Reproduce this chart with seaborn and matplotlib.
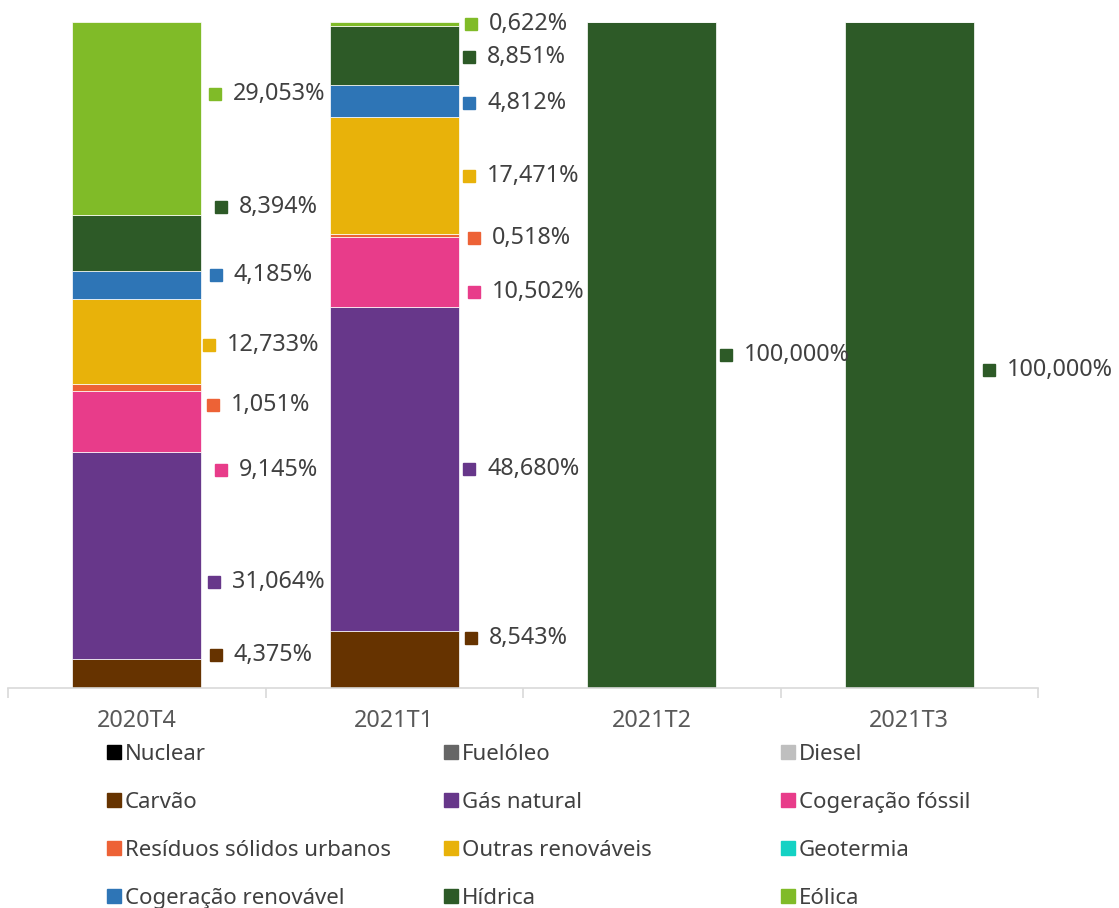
import numpy as np
import pandas as pd
import matplotlib
matplotlib.use("Agg")
import matplotlib.pyplot as plt
from matplotlib.lines import Line2D
import seaborn as sns

# ---------------- data ----------------
categories = ["2020T4", "2021T1", "2021T2", "2021T3"]
series = ["Nuclear", "Fuelóleo", "Diesel", "Carvão", "Gás natural", "Cogeração fóssil",
          "Resíduos sólidos urbanos", "Outras renováveis", "Geotermia",
          "Cogeração renovável", "Hídrica", "Eólica"]
nuclear = [0, 0, 0, 0]
fueloleo = [0, 0, 0, 0]
diesel = [0, 0, 0, 0]
carvao = [4.375, 8.543, 0, 0]
gas_natural = [31.064, 48.680, 0, 0]
cogeracao_fossil = [9.145, 10.502, 0, 0]
residuos = [1.051, 0.518, 0, 0]
outras_renov = [12.733, 17.471, 0, 0]
geotermia = [0, 0, 0, 0]
cogeracao_renov = [4.185, 4.812, 0, 0]
hidrica = [8.394, 8.851, 100.0, 100.0]
eolica = [29.053, 0.622, 0, 0]

values = [nuclear, fueloleo, diesel, carvao, gas_natural, cogeracao_fossil, residuos,
          outras_renov, geotermia, cogeracao_renov, hidrica, eolica]

colors = ["#000000", "#666666", "#bfbfbf", "#663300", "#67378a", "#e83c8a",
          "#ed6236", "#e8b20a", "#14d2c4", "#2e75b6", "#2d5a27", "#80bb28"]

# ---------------- label layout (manual callout placement, % and px offsets) ----------------
# (series index, category index, label y in %, marker centre offset from bar centre in px)
label_layout = [
    (3, 0, 4.95, 79), (4, 0, 15.9, 77), (5, 0, 32.7, 84), (6, 0, 42.5, 76),
    (7, 0, 51.5, 72), (9, 0, 62.0, 79), (10, 0, 72.2, 84), (11, 0, 89.2, 78),
    (3, 1, 7.5, 77), (4, 1, 32.9, 75), (5, 1, 59.5, 80), (6, 1, 67.6, 80),
    (7, 1, 76.9, 75), (9, 1, 87.8, 75), (10, 1, 94.7, 75), (11, 1, 99.7, 77),
    (10, 2, 50.0, 74), (10, 3, 47.7, 80),
]

def fmt(v):
    return f"{v:.3f}".replace(".", ",") + "%"

# ---------------- figure ----------------
sns.set_theme(style="white")
plt.rcParams["font.family"] = ["Noto Sans", "DejaVu Sans"]

FS = 16.8
LFS = 16
W, H = 1119, 908
fig = plt.figure(figsize=(W / 100, H / 100), dpi=100)
ax = fig.add_axes([8 / W, 1 - 688 / H, (1038 - 8) / W, (688 - 22) / H])

bottom = np.zeros(len(categories))
for name, vals, col in zip(series, values, colors):
    sns.barplot(x=categories, y=vals, color=col, bottom=bottom.copy(), width=0.5,
                ax=ax, edgecolor="white", linewidth=0.5, saturation=1, errorbar=None)
    bottom += np.array(vals)

ax.set_xlim(-0.5, 3.5)
ax.set_ylim(0, 100)
ax.set_ylabel("")
ax.set_xlabel("")
ax.set_yticks([])
for s in ["top", "right", "left"]:
    ax.spines[s].set_visible(False)
ax.spines["bottom"].set_color("#d9d9d9")
ax.spines["bottom"].set_linewidth(1.2)

ax.set_xticks(range(len(categories)))
ax.set_xticklabels(categories, fontsize=FS, color="#595959")
ax.set_xticks(np.arange(-0.5, 3.6, 1.0), minor=True)
ax.tick_params(axis="x", which="both", bottom=True)
ax.tick_params(axis="x", which="major", length=0, pad=15)
ax.tick_params(axis="x", which="minor", length=7, width=1.2, color="#d9d9d9", direction="out")

px = 257.5  # pixels per category unit
for si, ci, ly, dx in label_layout:
    v = values[si][ci]
    mx = ci + dx / px
    ax.plot([mx], [ly], marker="s", markersize=9, color=colors[si], linestyle="none",
            clip_on=False, zorder=5)
    ax.text(ci + (dx + 18) / px, ly, fmt(v), fontsize=FS, color="#404040",
            ha="left", va="center", clip_on=False, zorder=6)

# ---------------- legend (3 columns, row-wise order) ----------------
handles = [Line2D([], [], marker="s", markersize=10, color=c, linestyle="none") for c in colors]
col_x = [107, 444, 781]
for c in range(3):
    idx = list(range(c, len(series), 3))
    fig.legend([handles[i] for i in idx], [series[i] for i in idx],
               loc="upper left", bbox_to_anchor=(col_x[c] / W, 1 - 744 / H),
               frameon=False, fontsize=LFS, labelcolor="#404040",
               handlelength=0.6, handletextpad=0.2, borderpad=0, borderaxespad=0,
               labelspacing=1.21)

fig.savefig("out.png", dpi=100)
